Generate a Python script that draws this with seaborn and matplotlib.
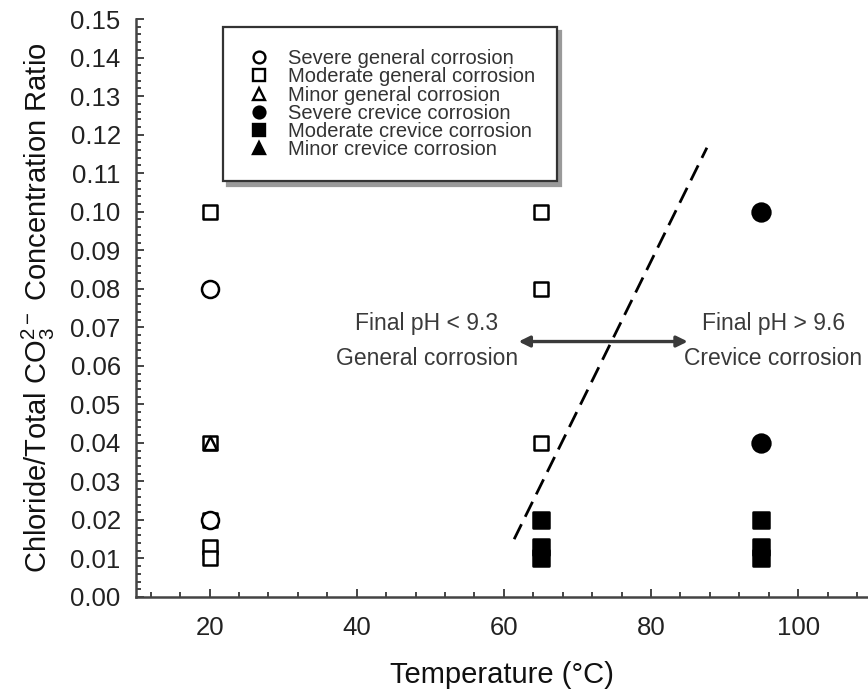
import matplotlib
matplotlib.use("Agg")
import matplotlib.pyplot as plt
from matplotlib.ticker import MultipleLocator, FormatStrFormatter
from matplotlib.lines import Line2D
import seaborn as sns
import pandas as pd

# ---- data ----
categories = ["Severe general corrosion", "Moderate general corrosion",
              "Minor general corrosion", "Severe crevice corrosion",
              "Moderate crevice corrosion", "Minor crevice corrosion"]
sev_gen_T = [20, 20]
sev_gen_R = [0.08, 0.02]
mod_gen_T = [20, 20, 20, 20, 20, 65, 65, 65]
mod_gen_R = [0.10, 0.04, 0.02, 0.013, 0.01, 0.10, 0.08, 0.04]
min_gen_T = [20]
min_gen_R = [0.04]
sev_crev_T = [95, 95]
sev_crev_R = [0.10, 0.04]
mod_crev_T = [65, 65, 65, 95, 95, 95]
mod_crev_R = [0.02, 0.013, 0.01, 0.02, 0.013, 0.01]
min_crev_T = [65]
min_crev_R = [0.01]

boundary_T = [61.4, 87.6]
boundary_R = [0.015, 0.1166]
arrow_T = [62, 85]
arrow_R = 0.0663

left_text = "Final pH < 9.3\nGeneral corrosion"
right_text = "Final pH > 9.6\nCrevice corrosion"
xticks = [20, 40, 60, 80, 100]

series = [(sev_gen_T, sev_gen_R), (mod_gen_T, mod_gen_R), (min_gen_T, min_gen_R),
          (sev_crev_T, sev_crev_R), (mod_crev_T, mod_crev_R), (min_crev_T, min_crev_R)]
rows = []
for cat, (T, R) in zip(categories, series):
    for t, r in zip(T, R):
        rows.append({"Temperature": t, "Ratio": r, "Category": cat})
df = pd.DataFrame(rows)

sns.set_style("ticks")
plt.rcParams["font.family"] = ["Liberation Sans", "DejaVu Sans"]
plt.rcParams["mathtext.fontset"] = "custom"
plt.rcParams["mathtext.rm"] = "Liberation Sans"
plt.rcParams["mathtext.it"] = "Liberation Sans:italic"
plt.rcParams["lines.scale_dashes"] = False

fig = plt.figure(figsize=(8.68, 6.92), dpi=100)
ax = fig.add_axes([0.1567, 0.1373, 0.8433, 0.8352])

style = {
    "Severe general corrosion": dict(marker="o", s=150, facecolor="white"),
    "Moderate general corrosion": dict(marker="s", s=105, facecolor="white"),
    "Minor general corrosion": dict(marker="^", s=90, facecolor="white"),
    "Severe crevice corrosion": dict(marker="o", s=165, facecolor="black"),
    "Moderate crevice corrosion": dict(marker="s", s=120, facecolor="black"),
    "Minor crevice corrosion": dict(marker="^", s=100, facecolor="black"),
}
order = ["Moderate general corrosion", "Severe general corrosion", "Minor general corrosion",
         "Severe crevice corrosion", "Moderate crevice corrosion", "Minor crevice corrosion"]
for cat in order:
    sub = df[df["Category"] == cat]
    st = style[cat]
    sns.scatterplot(data=sub, x="Temperature", y="Ratio", ax=ax, marker=st["marker"],
                    s=st["s"], color=st["facecolor"], edgecolor="black", linewidth=1.8,
                    zorder=3, legend=False)

leg_handles = []
for cat in categories:
    st = style[cat]
    leg_handles.append(Line2D([], [], linestyle="none", marker=st["marker"],
                              markersize=8.5, markerfacecolor=st["facecolor"],
                              markeredgecolor="black", markeredgewidth=1.7))

# boundary line
sns.lineplot(x=boundary_T, y=boundary_R, ax=ax, color="black", lw=2.0,
             linestyle=(0, (12, 6)), zorder=2)

# arrow
ax.annotate("", xy=(arrow_T[0], arrow_R), xytext=(arrow_T[1], arrow_R),
            arrowprops=dict(arrowstyle="<|-|>,head_length=0.65,head_width=0.32",
                            color="#3a3a3a", lw=2.4, shrinkA=0, shrinkB=0))

ax.text(49.5, 0.0664, left_text, ha="center", va="center", fontsize=16.5,
        color="#3a3a3a", linespacing=1.65)
ax.text(96.6, 0.0664, right_text, ha="center", va="center", fontsize=16.5,
        color="#3a3a3a", linespacing=1.65)

ax.set_xlim(10, 109.5)
ax.set_ylim(0, 0.15)
ax.set_xticks(xticks)
ax.yaxis.set_major_locator(MultipleLocator(0.01))
ax.yaxis.set_minor_locator(MultipleLocator(0.002))
ax.xaxis.set_minor_locator(MultipleLocator(4))
ax.yaxis.set_major_formatter(FormatStrFormatter("%.2f"))
ax.tick_params(which="both", direction="in", colors="#444444", labelcolor="#222222",
               labelsize=18.5, width=1.4)
ax.tick_params(which="major", length=6, pad=11)
ax.tick_params(which="minor", length=3.5)
ax.tick_params(axis="x", which="major", pad=14)
for sp in ["top", "right"]:
    ax.spines[sp].set_visible(False)
for sp in ["left", "bottom"]:
    ax.spines[sp].set_color("#444444")
    ax.spines[sp].set_linewidth(1.8)

ax.set_xlabel("Temperature (°C)", fontsize=21, color="#111111", labelpad=15)
ax.set_ylabel("Chloride/Total CO$_3^{2-}$ Concentration Ratio", fontsize=21,
              color="#111111", labelpad=10)

leg = ax.legend(leg_handles, categories, loc="upper left", bbox_to_anchor=(0.119, 0.986),
                borderaxespad=0, fontsize=14.5, labelspacing=-0.04, handlelength=1.4,
                handletextpad=0.7, borderpad=1.1, frameon=True, fancybox=False,
                shadow={"color": "#9a9a9a", "alpha": 1.0, "ox": 3, "oy": -3})
leg.get_frame().set_edgecolor("#333333")
leg.get_frame().set_linewidth(1.6)
for t in leg.get_texts():
    t.set_color("#333333")

fig.savefig("out.png", dpi=100)
